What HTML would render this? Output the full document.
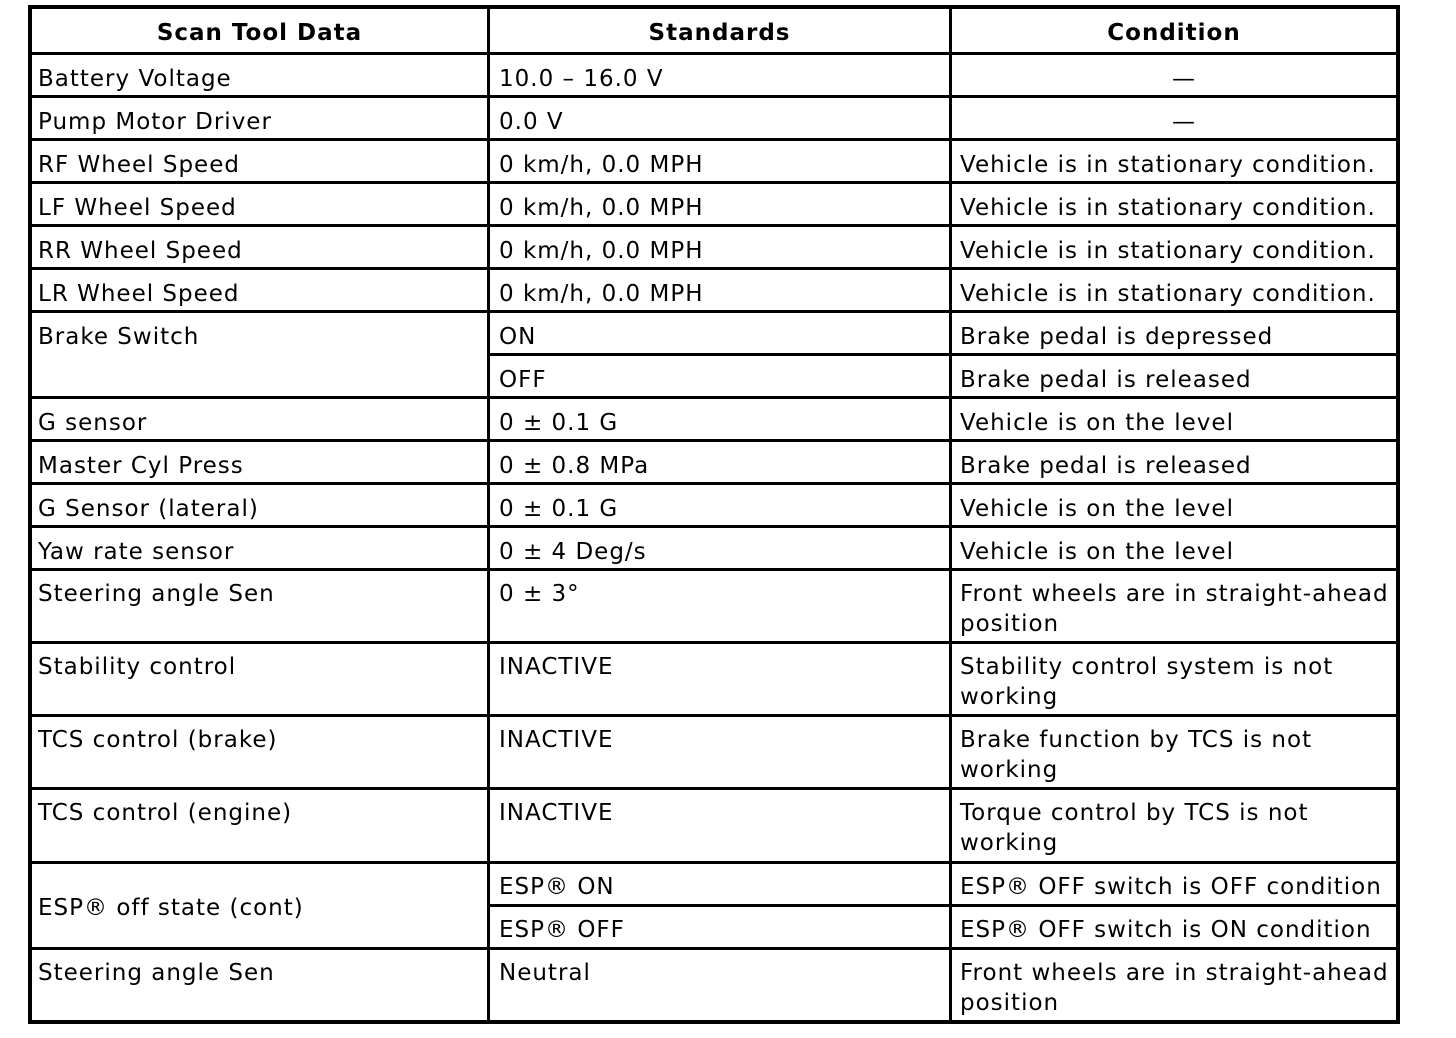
<!DOCTYPE html>
<html><head><meta charset="utf-8"><style>
body{margin:0;width:1456px;height:1038px;background:#fff;position:relative;overflow:hidden;font-family:"DejaVu Sans","Liberation Sans",sans-serif;font-size:23px;letter-spacing:1px;color:#000}
.h{position:absolute;left:28px;width:1372px;height:3px;background:#000}
.v{position:absolute;width:3px;background:#000}
.t{position:absolute;line-height:30px;white-space:nowrap;margin-top:1px}
.b{font-weight:bold;text-align:center}
</style></head><body>
<div class="h" style="top:5px;height:4px"></div>
<div class="h" style="top:52px"></div>
<div class="h" style="top:95px"></div>
<div class="h" style="top:138px"></div>
<div class="h" style="top:181px"></div>
<div class="h" style="top:224px"></div>
<div class="h" style="top:267px"></div>
<div class="h" style="top:310px"></div>
<div class="h" style="top:353px;left:487px;width:913px"></div>
<div class="h" style="top:396px"></div>
<div class="h" style="top:439px"></div>
<div class="h" style="top:482px"></div>
<div class="h" style="top:525px"></div>
<div class="h" style="top:568px"></div>
<div class="h" style="top:641px"></div>
<div class="h" style="top:714px"></div>
<div class="h" style="top:787px"></div>
<div class="h" style="top:861px"></div>
<div class="h" style="top:904px;left:487px;width:913px"></div>
<div class="h" style="top:947px"></div>
<div class="h" style="top:1020px;height:4px"></div>
<div class="v" style="left:28px;top:5px;height:1019px;width:4px"></div>
<div class="v" style="left:487px;top:5px;height:1019px"></div>
<div class="v" style="left:949px;top:5px;height:1019px"></div>
<div class="v" style="left:1396px;top:5px;height:1019px;width:4px"></div>

<div class="t b" style="left:32px;width:455px;top:17px">Scan Tool Data</div>
<div class="t b" style="left:490px;width:459px;top:17px">Standards</div>
<div class="t b" style="left:952px;width:444px;top:17px">Condition</div>

<div class="t" style="left:38px;top:63px">Battery Voltage</div>
<div class="t" style="left:499px;top:63px">10.0 – 16.0 V</div>
<div class="t b" style="left:952px;width:464px;top:63px;font-weight:normal">—</div>

<div class="t" style="left:38px;top:106px">Pump Motor Driver</div>
<div class="t" style="left:499px;top:106px">0.0 V</div>
<div class="t b" style="left:952px;width:464px;top:106px;font-weight:normal">—</div>

<div class="t" style="left:38px;top:149px">RF Wheel Speed</div>
<div class="t" style="left:499px;top:149px">0 km/h, 0.0 MPH</div>
<div class="t" style="left:960px;top:149px">Vehicle is in stationary condition.</div>

<div class="t" style="left:38px;top:192px">LF Wheel Speed</div>
<div class="t" style="left:499px;top:192px">0 km/h, 0.0 MPH</div>
<div class="t" style="left:960px;top:192px">Vehicle is in stationary condition.</div>

<div class="t" style="left:38px;top:235px">RR Wheel Speed</div>
<div class="t" style="left:499px;top:235px">0 km/h, 0.0 MPH</div>
<div class="t" style="left:960px;top:235px">Vehicle is in stationary condition.</div>

<div class="t" style="left:38px;top:278px">LR Wheel Speed</div>
<div class="t" style="left:499px;top:278px">0 km/h, 0.0 MPH</div>
<div class="t" style="left:960px;top:278px">Vehicle is in stationary condition.</div>

<div class="t" style="left:38px;top:321px">Brake Switch</div>
<div class="t" style="left:499px;top:321px">ON</div>
<div class="t" style="left:960px;top:321px">Brake pedal is depressed</div>
<div class="t" style="left:499px;top:364px">OFF</div>
<div class="t" style="left:960px;top:364px">Brake pedal is released</div>

<div class="t" style="left:38px;top:407px">G sensor</div>
<div class="t" style="left:499px;top:407px">0 ± 0.1 G</div>
<div class="t" style="left:960px;top:407px">Vehicle is on the level</div>

<div class="t" style="left:38px;top:450px">Master Cyl Press</div>
<div class="t" style="left:499px;top:450px">0 ± 0.8 MPa</div>
<div class="t" style="left:960px;top:450px">Brake pedal is released</div>

<div class="t" style="left:38px;top:493px">G Sensor (lateral)</div>
<div class="t" style="left:499px;top:493px">0 ± 0.1 G</div>
<div class="t" style="left:960px;top:493px">Vehicle is on the level</div>

<div class="t" style="left:38px;top:536px">Yaw rate sensor</div>
<div class="t" style="left:499px;top:536px">0 ± 4 Deg/s</div>
<div class="t" style="left:960px;top:536px">Vehicle is on the level</div>

<div class="t" style="left:38px;top:578px">Steering angle Sen</div>
<div class="t" style="left:499px;top:578px">0 ± 3°</div>
<div class="t" style="left:960px;top:578px">Front wheels are in straight-ahead<br>position</div>

<div class="t" style="left:38px;top:651px">Stability control</div>
<div class="t" style="left:499px;top:651px">INACTIVE</div>
<div class="t" style="left:960px;top:651px">Stability control system is not<br>working</div>

<div class="t" style="left:38px;top:724px">TCS control (brake)</div>
<div class="t" style="left:499px;top:724px">INACTIVE</div>
<div class="t" style="left:960px;top:724px">Brake function by TCS is not<br>working</div>

<div class="t" style="left:38px;top:797px">TCS control (engine)</div>
<div class="t" style="left:499px;top:797px">INACTIVE</div>
<div class="t" style="left:960px;top:797px">Torque control by TCS is not<br>working</div>

<div class="t" style="left:38px;top:892px">ESP® off state (cont)</div>
<div class="t" style="left:499px;top:871px">ESP® ON</div>
<div class="t" style="left:960px;top:871px">ESP® OFF switch is OFF condition</div>
<div class="t" style="left:499px;top:914px">ESP® OFF</div>
<div class="t" style="left:960px;top:914px">ESP® OFF switch is ON condition</div>

<div class="t" style="left:38px;top:957px">Steering angle Sen</div>
<div class="t" style="left:499px;top:957px">Neutral</div>
<div class="t" style="left:960px;top:957px">Front wheels are in straight-ahead<br>position</div>
</body></html>
